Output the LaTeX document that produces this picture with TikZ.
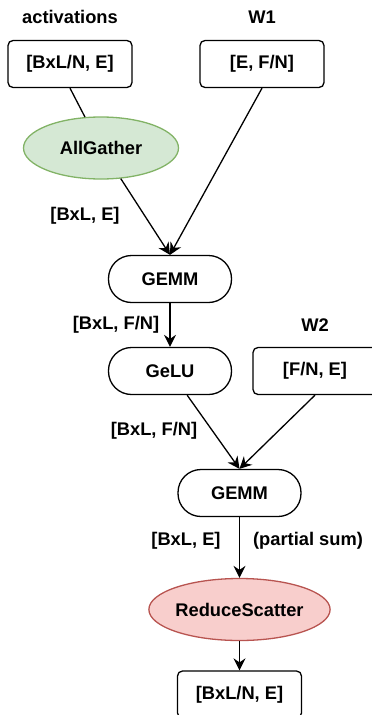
\documentclass[tikz,border=0pt]{standalone}
\usepackage{fontspec}
\setmainfont{Liberation Sans}
\usetikzlibrary{arrows.meta,shapes.geometric}
\definecolor{agfill}{HTML}{D5E8D4}
\definecolor{agdraw}{HTML}{82B366}
\definecolor{rsfill}{HTML}{F8CECC}
\definecolor{rsdraw}{HTML}{B85450}
\begin{document}
\begin{tikzpicture}[x=1pt,y=-1pt,
  every node/.style={font=\fontsize{18.3}{22}\selectfont\bfseries, inner sep=0pt},
  databox/.style={draw, rounded corners=5pt, minimum width=124pt, minimum height=47pt, line width=1.3pt},
  opbox/.style={draw, rounded corners=23pt, minimum width=123pt, minimum height=47pt, line width=1.3pt},
  coll/.style={ellipse, minimum width=155pt, minimum height=62pt, line width=1.3pt},
  conn/.style={line width=1.3pt},
  arr/.style={conn, -{Stealth[length=12pt,width=12pt,inset=4pt]}}
]
\useasboundingbox (0,0) rectangle (372,715);
\clip (0,0) rectangle (372,715);

\node (lact) at (70,17) {activations};
\node (lw1) at (262,17) {W1};
\node (lw2) at (315,325) {W2};

\node[databox] (act) at (70,64) {[BxL/N, E]};
\node[databox] (w1) at (262,64) {[E, F/N]};
\node[coll, draw=agdraw, fill=agfill] (ag) at (101,148) {AllGather};
\node[opbox] (gemm1) at (170,279) {GEMM};
\node[opbox] (gelu) at (170,371) {GeLU};
\node[databox] (w2) at (315,371) {[F/N, E]};
\node[opbox] (gemm2) at (239.5,493) {GEMM};
\node[coll, draw=rsdraw, fill=rsfill] (rs) at (239.5,609.5) {ReduceScatter};
\node[databox] (out) at (239.5,694.5) {[BxL/N, E]};

\node (l1) at (85,216) {[BxL, E]};
\node (l2) at (116,325) {[BxL, F/N]};
\node (l3) at (154,431) {[BxL, F/N]};
\node (l4) at (186,541) {[BxL, E]};
\node (l5) at (308,541) {(partial sum)};

\draw[conn] (act.south) -- (ag);
\draw[arr] (ag) -- (gemm1.north);
\draw[arr] (w1.south) -- (gemm1.north);
\draw[arr] (gemm1) -- (gelu);
\draw[arr] (gelu) -- (gemm2.north);
\draw[arr] (w2.south) -- (gemm2.north);
\draw[arr] (gemm2) -- (rs);
\draw[arr] (rs) -- (out);
\end{tikzpicture}
\end{document}
